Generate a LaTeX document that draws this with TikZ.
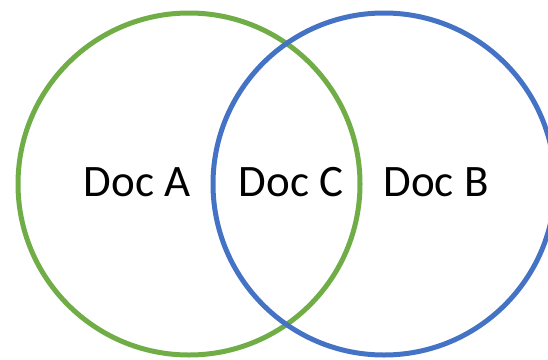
\documentclass[tikz,border=0pt]{standalone}
\usepackage{fontspec}
\setmainfont{Carlito}
\definecolor{setgreen}{HTML}{70AD47}
\definecolor{setblue}{HTML}{4472C4}
\tikzset{
  docset/.style={circle, draw, line width=5pt, minimum size=342pt, inner sep=0pt},
  doclabel/.style={font=\fontsize{45}{54}\selectfont, inner sep=0pt}
}

\begin{document}
\begin{tikzpicture}[x=1pt,y=-1pt]
  \useasboundingbox (0,0) rectangle (548,359);
  \node[docset, setgreen] (setA) at (189,184) {};
  \node[docset, setblue] (setB) at (384,184) {};

  \node[doclabel] (docA) at (137,182) {Doc A};
  \node[doclabel] (docC) at (291,182) {Doc C};
  \node[doclabel] (docB) at (436,182) {Doc B};
\end{tikzpicture}
\end{document}
